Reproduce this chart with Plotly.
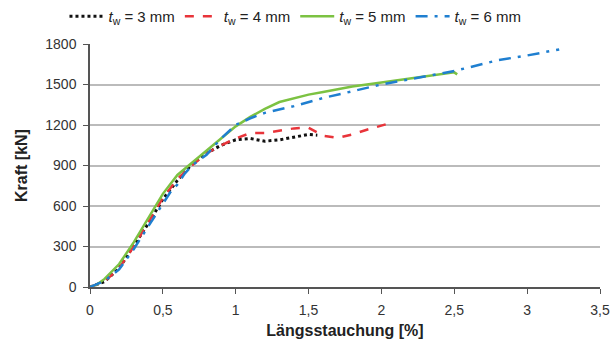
import plotly.graph_objects as go

x3 = [0, 0.1, 0.2, 0.3, 0.4, 0.5, 0.6, 0.7, 0.8, 0.9, 1.0, 1.1, 1.2, 1.3, 1.4, 1.5, 1.56]
y3 = [0, 40, 140, 300, 470, 650, 790, 910, 990, 1050, 1090, 1100, 1080, 1090, 1110, 1130, 1125]

x4 = [0, 0.1, 0.2, 0.3, 0.4, 0.5, 0.6, 0.7, 0.8, 0.9, 1.0, 1.1, 1.2, 1.3, 1.4, 1.5, 1.6, 1.7, 1.8, 1.9, 2.0, 2.08]
y4 = [0, 40, 140, 300, 480, 660, 800, 900, 990, 1050, 1100, 1140, 1140, 1160, 1175, 1180, 1120, 1105, 1130, 1165, 1195, 1220]

x5 = [0, 0.05, 0.1, 0.2, 0.3, 0.4, 0.5, 0.6, 0.7, 0.8, 0.9, 1.0, 1.1, 1.2, 1.3, 1.4, 1.5, 1.6, 1.8, 2.0, 2.2, 2.4, 2.5, 2.52]
y5 = [0, 20, 60, 170, 330, 510, 690, 830, 920, 1010, 1100, 1190, 1260, 1320, 1370, 1400, 1425, 1445, 1485, 1515, 1545, 1575, 1590, 1575]

x6 = [0, 0.1, 0.2, 0.3, 0.4, 0.5, 0.55, 0.6, 0.65, 0.7, 0.8, 0.9, 1.0, 1.1, 1.2, 1.4, 1.6, 1.8, 2.0, 2.2, 2.5, 2.8, 3.0, 3.22]
y6 = [0, 45, 130, 280, 450, 620, 700, 760, 840, 900, 980, 1100, 1200, 1250, 1290, 1340, 1400, 1450, 1500, 1540, 1600, 1680, 1715, 1760]

names = ["<i>t</i><sub>w</sub> = 3 mm", "<i>t</i><sub>w</sub> = 4 mm",
         "<i>t</i><sub>w</sub> = 5 mm", "<i>t</i><sub>w</sub> = 6 mm"]

fig = go.Figure()
fig.add_trace(go.Scatter(x=x3, y=y3, name=names[0], mode="lines",
                         line=dict(color="#111111", width=3, dash="dot")))
fig.add_trace(go.Scatter(x=x4, y=y4, name=names[1], mode="lines",
                         line=dict(color="#e8343a", width=2.5, dash="dash")))
fig.add_trace(go.Scatter(x=x5, y=y5, name=names[2], mode="lines",
                         line=dict(color="#7cc242", width=2.5)))
fig.add_trace(go.Scatter(x=x6, y=y6, name=names[3], mode="lines",
                         line=dict(color="#1f7fd0", width=2.5, dash="12px,7px,3px,7px")))

fig.update_layout(
    width=614, height=343,
    margin=dict(l=90, r=14, t=44, b=56, autoexpand=False),
    paper_bgcolor="white", plot_bgcolor="white",
    font=dict(family="Liberation Sans, Arial", size=14, color="#333333"),
    legend=dict(orientation="h", xref="container", yref="container",
                x=0.105, xanchor="left", y=1.0, yanchor="top",
                font=dict(size=15, color="#222222"), itemwidth=34,
                tracegroupgap=0, bgcolor="rgba(0,0,0,0)"),
    showlegend=True,
)
fig.update_xaxes(range=[0, 3.5], tickvals=[0, 0.5, 1, 1.5, 2, 2.5, 3, 3.5],
                 ticktext=["0", "0,5", "1", "1,5", "2", "2,5", "3", "3,5"],
                 showgrid=False, showline=True, linecolor="#555555", linewidth=1.5,
                 ticks="outside", ticklen=5, tickcolor="#555555",
                 tickfont=dict(size=14), ticklabelstandoff=4,
                 title=dict(text="<b>Längsstauchung [%]</b>", font=dict(size=16, color="#222222"), standoff=8),
                 zeroline=False)
fig.update_yaxes(range=[0, 1800], tickvals=[0, 300, 600, 900, 1200, 1500, 1800],
                 showgrid=True, gridcolor="#bbbbbb", gridwidth=1.5,
                 showline=True, linecolor="#555555", linewidth=1.5,
                 ticks="outside", ticklen=5, tickcolor="#555555",
                 tickfont=dict(size=14), ticklabelstandoff=4,
                 title=dict(text="<b>Kraft [kN]</b>", font=dict(size=16, color="#222222"), standoff=14),
                 zeroline=False)

fig.write_html("out.html")
